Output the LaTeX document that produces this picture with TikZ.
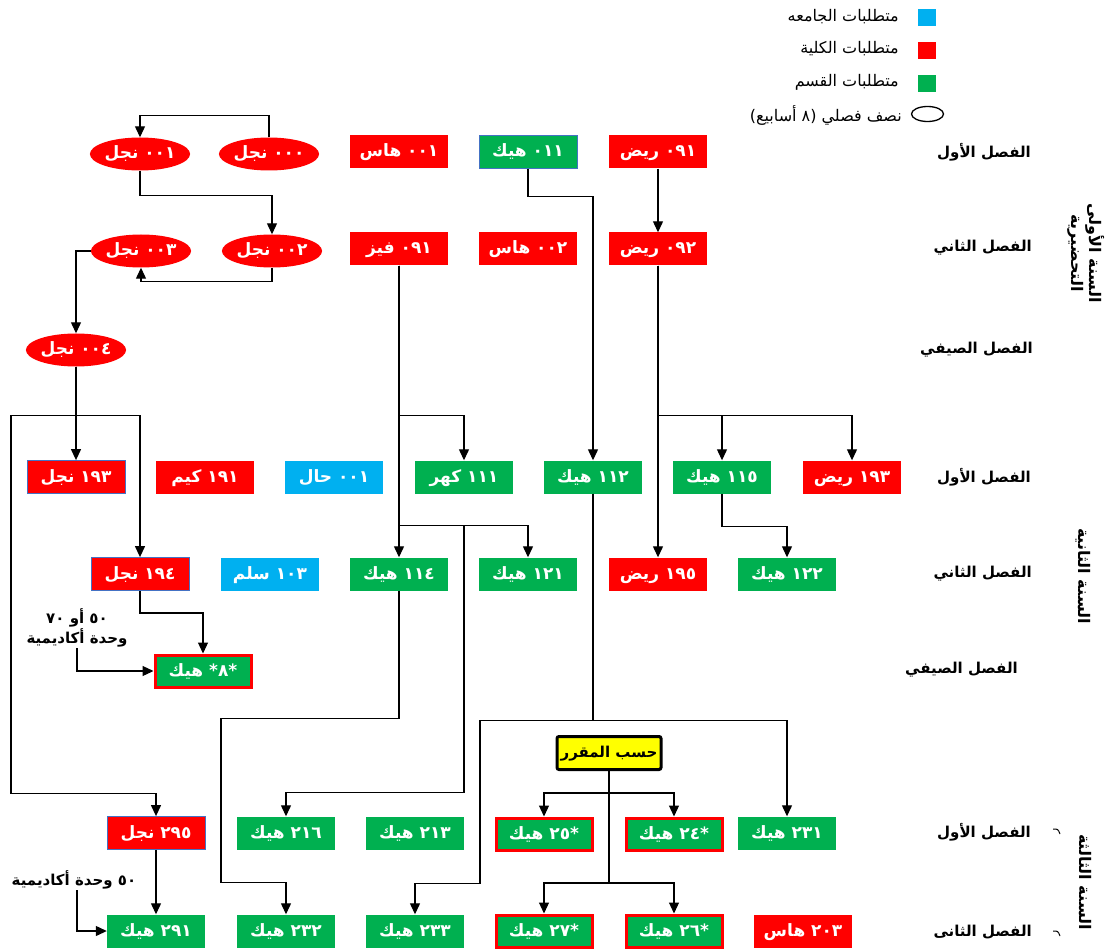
\documentclass[tikz,border=0pt]{standalone}
\usepackage{fontspec}
\usetikzlibrary{shapes.geometric,arrows.meta}
\newfontfamily\arfont[Script=Arabic]{DejaVu Sans}
\TeXXeTstate=1
\newcommand{\artxt}[1]{\arfont\beginR #1\endR}
\definecolor{reqred}{RGB}{255,0,0}
\definecolor{reqgreen}{RGB}{0,176,80}
\definecolor{reqblue}{RGB}{0,176,240}
\definecolor{edgeblue}{RGB}{68,114,196}
\definecolor{notey}{RGB}{255,255,0}
\tikzset{
  course/.style={rectangle, minimum width=98pt, minimum height=33pt, inner sep=0pt, text height=12pt, text depth=2pt, text=white, font=\bfseries\fontsize{17}{19}\selectfont},
  colreq/.style={course, fill=reqred},
  depreq/.style={course, fill=reqgreen},
  unireq/.style={course, fill=reqblue},
  edged/.style={draw=edgeblue, line width=0.8pt},
  halfreq/.style={course, ellipse, fill=reqred, minimum width=97pt},
  pickreq/.style={depreq, draw=reqred, line width=3pt, minimum width=96pt, minimum height=32pt},
  term/.style={anchor=east, inner sep=0pt, font=\bfseries\fontsize{15}{17}\selectfont},
  yearlbl/.style={rotate=-90, align=center, inner sep=0pt, font=\bfseries\fontsize{16}{18}\selectfont},
  legtxt/.style={anchor=east, inner sep=0pt, font=\fontsize{16}{18}\selectfont},
  remark/.style={align=center, inner sep=1pt, font=\bfseries\fontsize{15}{20}\selectfont},
  link/.style={line width=1.2pt, -{Triangle[length=11pt,width=10pt]}}
}

\begin{document}
\begin{tikzpicture}[x=1pt,y=-1pt]
\useasboundingbox (0,0) rectangle (1113,949);

% legend
\fill[reqblue] (918,9) rectangle (936,26);
\fill[reqred] (918,42) rectangle (936,59);
\fill[reqgreen] (918,75) rectangle (936,92);
\draw[line width=1.3pt] (927.5,114) ellipse (16pt and 7.5pt);
\node[legtxt] (lg1) at (899,17) {\artxt{متطلبات الجامعه}};
\node[legtxt] (lg2) at (899,49) {\artxt{متطلبات الكلية}};
\node[legtxt] (lg3) at (899,82) {\artxt{متطلبات القسم}};
\node[legtxt] (lg4) at (902,115) {\artxt{نصف فصلي (٨ أسابيع)}};

% terms
\node[term] (t1) at (1031,152) {\artxt{الفصل الأول}};
\node[term] (t2) at (1032,248) {\artxt{الفصل الثاني}};
\node[term] (t3) at (1033,350) {\artxt{الفصل الصيفي}};
\node[term] (t4) at (1031,477) {\artxt{الفصل الأول}};
\node[term] (t5) at (1032,574) {\artxt{الفصل الثاني}};
\node[term] (t6) at (1018,670) {\artxt{الفصل الصيفي}};
\node[term] (t7) at (1031,832) {\artxt{الفصل الأول}};
\node[term] (t8) at (1032,932) {\artxt{الفصل الثانى}};
\node[yearlbl] (y1) at (1086,253) {\artxt{السنة الأولى}\\\artxt{التحضيرية}};
\node[yearlbl] (y2) at (1083,576) {\artxt{السنة الثانية}};
\node[yearlbl] (y3) at (1085,882) {\artxt{السنة الثالثة}};
\draw[line width=1pt] (1053,829) .. controls (1058,829) .. (1060,834);
\draw[line width=1pt] (1053,931) .. controls (1058,931) .. (1060,936);

% preparatory year
\node[halfreq] (e000) at (269,154) {\artxt{٠٠٠ نجل}};
\node[halfreq] (e001) at (140,154) {\artxt{٠٠١ نجل}};
\node[colreq] (has001) at (399,152) {\artxt{٠٠١ هاس}};
\node[depreq,edged] (hik011) at (528,152) {\artxt{٠١١ هيك}};
\node[colreq] (riy091) at (658,152) {\artxt{٠٩١ ريض}};
\node[halfreq] (e003) at (141,251) {\artxt{٠٠٣ نجل}};
\node[halfreq] (e002) at (272,251) {\artxt{٠٠٢ نجل}};
\node[colreq] (fiz091) at (399,249) {\artxt{٠٩١ فيز}};
\node[colreq] (has002) at (528,249) {\artxt{٠٠٢ هاس}};
\node[colreq] (riy092) at (658,249) {\artxt{٠٩٢ ريض}};
\node[halfreq] (e004) at (76,350) {\artxt{٠٠٤ نجل}};

% second year
\node[colreq,edged] (naj193) at (76,477) {\artxt{١٩٣ نجل}};
\node[colreq] (kim191) at (205,477) {\artxt{١٩١ كيم}};
\node[unireq] (hal001) at (334,477) {\artxt{٠٠١ حال}};
\node[depreq] (kah111) at (464,477) {\artxt{١١١ كهر}};
\node[depreq] (hik112) at (593,477) {\artxt{١١٢ هيك}};
\node[depreq] (hik115) at (722,477) {\artxt{١١٥ هيك}};
\node[colreq] (riy193) at (852,477) {\artxt{١٩٣ ريض}};
\node[colreq,edged] (naj194) at (140,574) {\artxt{١٩٤ نجل}};
\node[unireq] (sal103) at (270,574) {\artxt{١٠٣ سلم}};
\node[depreq] (hik114) at (399,574) {\artxt{١١٤ هيك}};
\node[depreq] (hik121) at (528,574) {\artxt{١٢١ هيك}};
\node[colreq] (riy195) at (658,574) {\artxt{١٩٥ ريض}};
\node[depreq] (hik122) at (787,574) {\artxt{١٢٢ هيك}};
\node[pickreq] (hik8) at (203,671) {\artxt{*٨* هيك}};
\node[remark] (note1) at (77,628) {\artxt{٥٠ أو ٧٠}\\\artxt{وحدة أكاديمية}};

% third year
\node[draw, line width=3pt, rounded corners=2pt, fill=notey, minimum width=104pt, minimum height=33pt, text height=11pt, text depth=2pt, font=\bfseries\fontsize{15}{17}\selectfont] (bycourse) at (609,753) {\artxt{حسب المقرر}};
\node[colreq,edged] (naj295) at (156,833) {\artxt{٢٩٥ نجل}};
\node[depreq] (hik216) at (286,833) {\artxt{٢١٦ هيك}};
\node[depreq] (hik213) at (415,833) {\artxt{٢١٣ هيك}};
\node[pickreq] (hik25) at (544,834) {\artxt{*٢٥ هيك}};
\node[pickreq] (hik24) at (674,834) {\artxt{*٢٤ هيك}};
\node[depreq] (hik231) at (787,833) {\artxt{٢٣١ هيك}};
\node[depreq] (hik291) at (156,931) {\artxt{٢٩١ هيك}};
\node[depreq] (hik232) at (286,931) {\artxt{٢٣٢ هيك}};
\node[depreq] (hik233) at (415,931) {\artxt{٢٣٣ هيك}};
\node[pickreq] (hik27) at (544,931) {\artxt{*٢٧ هيك}};
\node[pickreq] (hik26) at (674,931) {\artxt{*٢٦ هيك}};
\node[colreq] (has203) at (803,931) {\artxt{٢٠٣ هاس}};
\node[remark] (note2) at (74,880) {\artxt{٥٠ وحدة أكاديمية}};

% links
\draw[link] (e000.north) -- ++(0,-22) -| (e001.north);
\draw[link] (e001.south) -- ++(0,25) -| (e002.north);
\draw[link] (e002.south) -- ++(0,14) -| (e003.south);
\draw[link] (e003.west) -| (e004.north);
\draw[link] (e004.south) -- (naj193.north);
\draw[link] (e004.south) -- ++(0,49) -| (naj194.north);
\draw[link] (e004.south) -- ++(0,49) -- ++(-65,0) -- ++(0,378) -| (naj295.north);
\draw[link] (naj194.south) -- ++(0,22) -| (hik8.north);
\draw[link] (note1.south) |- (hik8.west);
\draw[link] (naj295.south) -- (hik291.north);
\draw[link] ([xshift=3pt]note2.south) |- (hik291.west);
\draw[link] (riy091.south) -- (riy092.north);
\draw[link] (hik011.south) -- ++(0,28) -| (hik112.north);
\draw[link] (fiz091.south) -- (hik114.north);
\draw[link] (fiz091.south) -- ++(0,150) -| (kah111.north);
\draw[link] (fiz091.south) -- ++(0,260) -| (hik121.north);
\draw[link] (fiz091.south) -- ++(0,260) -- ++(65,0) -- ++(0,267) -| (hik216.north);
\draw[link] (hik114.south) -- ++(0,128) -| ++(-178,164) -| (hik232.north);
\draw[link] (riy092.south) -- (riy195.north);
\draw[link] (riy092.south) -- ++(0,150) -| (hik115.north);
\draw[link] (riy092.south) -- ++(0,150) -| (riy193.north);
\draw[link] (hik115.south) -- ++(0,33) -| (hik122.north);
\draw[link] (hik112.south) -- ++(0,227) -| (hik231.north);
\draw[link] (hik112.south) -- ++(0,227) -| ++(-113,163) -| (hik233.north);
\draw[link] (bycourse.south) -- ++(0,22) -| (hik25.north);
\draw[link] (bycourse.south) -- ++(0,22) -| (hik24.north);
\draw[link] (bycourse.south) -- ++(0,112) -| (hik27.north);
\draw[link] (bycourse.south) -- ++(0,112) -| (hik26.north);
\end{tikzpicture}
\end{document}
